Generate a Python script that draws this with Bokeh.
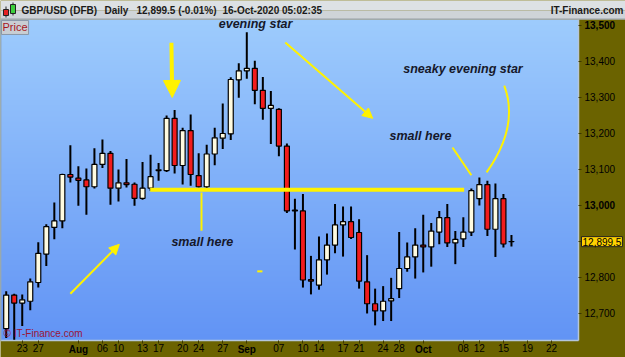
import numpy as np
import pandas as pd
from bokeh.plotting import figure
from bokeh.models import (Range1d, FixedTicker, NumeralTickFormatter, Label, Arrow,
                          NormalHead, ColumnDataSource, LinearAxis)
from bokeh.embed import file_html
from bokeh.resources import INLINE
from bokeh.core.properties import value

# ---------------- data (GBP/USD DFB, daily) ----------------
dates = list(pd.bdate_range("2020-07-21", "2020-10-16").strftime("%Y-%m-%d"))
future_slots = ["2020-10-18", "2020-10-19", "2020-10-20", "2020-10-21",
                "2020-10-22", "2020-10-23", "2020-10-26", "2020-10-27"]

opens = [12658, 12751, 12729, 12734, 12786, 12865, 12939, 12957, 13086, 13076,
         13071, 13052, 13114, 13145, 13048, 13063, 13059, 13020, 13048, 13097,
         13097, 13242, 13111, 13208, 13083, 13052, 13143, 13187, 13199, 13349,
         13374, 13381, 13320, 13270, 13267, 13165, 12985, 12985, 12794, 12779,
         12849, 12890, 12946, 12955, 12925, 12788, 12727, 12707, 12735, 12769,
         12825, 12857, 12890, 12885, 12926, 12966, 12896, 12907, 12926, 13019,
         13058, 12934, 13019, 12900]
highs = [12762, 12755, 12753, 12797, 12898, 12948, 13008, 13088, 13167, 13109,
         13103, 13159, 13183, 13151, 13100, 13129, 13064, 13121, 13141, 13118,
         13250, 13265, 13216, 13253, 13145, 13169, 13216, 13283, 13356, 13395,
         13481, 13402, 13357, 13318, 13270, 13172, 13019, 13032, 12860, 12914,
         12922, 13004, 12997, 12997, 12962, 12862, 12769, 12776, 12799, 12926,
         12897, 12937, 12974, 12951, 12985, 13004, 12929, 12967, 13047, 13078,
         13069, 13061, 13032, 12918]
lows = [12632, 12627, 12665, 12709, 12772, 12832, 12906, 12937, 13064, 12999,
        12974, 13047, 13104, 13002, 13011, 13050, 12999, 13016, 13041, 13069,
        13093, 13089, 13058, 13055, 13050, 13048, 13112, 13157, 13182, 13299,
        13352, 13281, 13238, 13171, 13137, 12979, 12878, 12772, 12753, 12766,
        12808, 12867, 12858, 12907, 12769, 12700, 12667, 12679, 12679, 12743,
        12816, 12797, 12814, 12830, 12892, 12885, 12837, 12885, 12915, 13000,
        12915, 12857, 12883, 12886]
closes = [12751, 12729, 12738, 12788, 12867, 12941, 12957, 13086, 13079, 13070,
          13052, 13114, 13145, 13048, 13063, 13058, 13020, 13048, 13080, 13099,
          13242, 13111, 13208, 13086, 13052, 13143, 13188, 13200, 13350, 13374,
          13381, 13320, 13270, 13278, 13165, 12985, 12987, 12793, 12790, 12849,
          12890, 12946, 12955, 12911, 12790, 12727, 12707, 12734, 12741, 12825,
          12857, 12890, 12885, 12929, 12966, 12896, 12906, 12926, 13041, 13058,
          12934, 13019, 12893, 12899.5]

tick_dates = ["2020-07-23", "2020-07-27", "2020-08-03", "2020-08-06", "2020-08-10",
              "2020-08-13", "2020-08-17", "2020-08-20", "2020-08-24", "2020-08-27",
              "2020-09-01", "2020-09-07", "2020-09-10", "2020-09-14", "2020-09-17",
              "2020-09-21", "2020-09-24", "2020-09-28", "2020-10-01", "2020-10-08",
              "2020-10-12", "2020-10-15", "2020-10-19", "2020-10-22"]
tick_labels = ["23", "27", "Aug", "06", "10", "13", "17", "20", "24", "27", "Sep",
               "07", "10", "14", "17", "21", "24", "28", "Oct", "08", "12", "15",
               "19", "22"]
month_labels = ["Aug", "Sep", "Oct"]
price_ticks = [12700, 12800, 12900, 13000, 13100, 13200, 13300, 13400, 13500]
bold_price_ticks = [13000, 13500]
last_price = 12899.5
header_texts = ["GBP/USD (DFB)", "Daily", "12,899.5 (-0.01%)", "16-Oct-2020 05:02:35"]

# ---------------- build ----------------
slots = dates + future_slots
slot_index = {d: i for i, d in enumerate(slots)}
xs = list(range(len(dates)))
CREAM, RED = "#fffbe0", "#f21c1c"
YEL = "#fff200"
OLIVE = "#6b6300"
FONT = "Liberation Sans"

src = ColumnDataSource(dict(
    x=xs, o=opens, h=highs, l=lows, c=closes,
    top=[max(a, b) for a, b in zip(opens, closes)],
    bot=[min(a, b) for a, b in zip(opens, closes)],
    col=[CREAM if c >= o else RED for o, c in zip(opens, closes)],
))

# frame covers the whole canvas; price pane is x in [-0.711, 71.36], y in [12625, 13516.7]
X0, X1, XP = -0.711, 77.22, 71.36
Y0, Y1, YB, YT = 12577.7, 13569.4, 12625.0, 13516.7

p = figure(width=625, height=357, x_range=Range1d(X0, X1), y_range=Range1d(Y0, Y1),
           y_axis_location="right", output_backend="svg", toolbar_location=None,
           min_border=0)
p.extra_x_ranges = {"px": Range1d(0, 625)}
p.extra_y_ranges = {"px": Range1d(357, 0)}
p.grid.visible = False
p.outline_line_color = None
p.background_fill_color = OLIVE
p.border_fill_color = OLIVE

# background gradient of price pane
N = 321
t = np.linspace(0, 1, N)[:, None]
top_c = np.array([158, 204, 253]); bot_c = np.array([98, 148, 245])
rgb = bot_c + (top_c - bot_c) * t
img = np.zeros((N, 1, 4), dtype=np.uint8)
img[..., :3] = rgb.reshape(N, 1, 3).astype(np.uint8)
img[..., 3] = 255
p.image_rgba(image=[img.view(np.uint32).reshape(N, 1)], x=X0, y=YB, dw=XP - X0, dh=YT - YB)
# pane borders
p.segment(x0=[XP, X0], y0=[YB, YB], x1=[XP, XP], y1=[YT, YB], line_color="#b4c6dc", line_width=1.5)
p.segment(x0=[X0], y0=[YB], x1=[X0], y1=[YT], line_color="#8ea6c2", line_width=2)

# candles
p.segment(x0="x", y0="l", x1="x", y1="h", source=src, line_color="black", line_width=2)
p.vbar(x="x", width=0.62, top="top", bottom="bot", source=src, fill_color="col",
       line_color="black", line_width=1.2)

# axes (fixed at the pane edges)
def style_axis(ax, bold=False):
    ax.major_label_text_font = FONT
    ax.major_label_text_font_size = "10px"
    ax.major_label_text_color = "#000000"
    ax.major_label_text_font_style = "bold" if bold else "normal"
    ax.major_tick_in = 0
    ax.minor_tick_line_color = None
    ax.major_tick_line_color = "#3c3800"
    ax.axis_line_color = None

yax = p.yaxis[0]
yax.fixed_location = XP
yax.ticker = FixedTicker(ticks=[v for v in price_ticks if v not in bold_price_ticks])
yax.formatter = NumeralTickFormatter(format="0,0")
yax.major_tick_out = 3
yax.major_label_standoff = 3
style_axis(yax)

yax_b = LinearAxis(fixed_location=XP, ticker=FixedTicker(ticks=bold_price_ticks),
                   formatter=NumeralTickFormatter(format="0,0"),
                   major_tick_out=3, major_label_standoff=3)
style_axis(yax_b, bold=True)
p.add_layout(yax_b, "right")

xt_norm = [(slot_index[d], lab) for d, lab in zip(tick_dates, tick_labels) if lab not in month_labels]
xt_bold = [(slot_index[d], lab) for d, lab in zip(tick_dates, tick_labels) if lab in month_labels]

xax = p.xaxis[0]
xax.fixed_location = YB
xax.ticker = FixedTicker(ticks=[i for i, _ in xt_norm])
xax.major_label_overrides = {i: lab for i, lab in xt_norm}
xax.major_tick_out = 3
xax.major_label_standoff = 1
style_axis(xax)

xax_b = LinearAxis(fixed_location=YB, ticker=FixedTicker(ticks=[i for i, _ in xt_bold]),
                   major_label_overrides={i: lab for i, lab in xt_bold},
                   major_tick_out=3, major_label_standoff=1)
style_axis(xax_b, bold=True)
p.add_layout(xax_b, "below")

# annotations
p.segment(x0=[17.95], y0=[13044], x1=[57.1], y1=[13044], line_color=YEL, line_width=4)
p.segment(x0=[24.35], y0=[13036], x1=[24.35], y1=[12930], line_color=YEL, line_width=2)
p.segment(x0=[31.3], y0=[12817], x1=[31.95], y1=[12817], line_color=YEL, line_width=2)
p.segment(x0=[55.65], y0=[13161], x1=[58.0], y1=[13084], line_color=YEL, line_width=2)
p.quadratic(x0=[62.1], y0=[13333], x1=[59.9], y1=[13092], cx=[64.0], cy=[13221],
            line_color=YEL, line_width=2)

p.add_layout(Arrow(end=NormalHead(size=17, fill_color=YEL, line_color=YEL),
                   x_start=20.6, y_start=13452, x_end=20.7, y_end=13300,
                   line_color=YEL, line_width=4))
p.add_layout(Arrow(end=NormalHead(size=10, fill_color=YEL, line_color=YEL),
                   x_start=8.0, y_start=12755, x_end=14.1, y_end=12892,
                   line_color=YEL, line_width=2))
p.add_layout(Arrow(end=NormalHead(size=10, fill_color=YEL, line_color=YEL),
                   x_start=34.8, y_start=13453, x_end=45.7, y_end=13242,
                   line_color=YEL, line_width=2))

ann_font = dict(text_font=value(FONT), text_font_style="bold italic",
                text_font_size="12.5px", text_color="#16182a", text_baseline="middle")
p.text(x=[20.6], y=[12898], text=["small here"], **ann_font)
p.text(x=[26.5], y=[13503], text=["evening star"], **ann_font)
p.text(x=[47.8], y=[13192], text=["small here"], **ann_font)
p.text(x=[49.5], y=[13378], text=["sneaky evening star"], **ann_font)

p.add_layout(Label(x=X0, y=YT, text="Price", text_baseline="top",
                   x_offset=1, y_offset=-1, text_font=FONT, text_font_size="11px",
                   text_color="#a8161c", background_fill_color="#c9ced3",
                   border_line_color="#8a98a8", padding=1))
p.add_layout(Label(x=X0, y=YB, text="\u00a9 IT-Finance.com", text_baseline="bottom",
                   x_offset=3, y_offset=1, text_font=FONT, text_font_size="10px",
                   text_color="#9a1438"))
p.add_layout(Label(x=XP, y=last_price, text="12,899.5", text_baseline="middle",
                   x_offset=3, text_font=FONT, text_font_size="10px", text_color="#000000",
                   background_fill_color="#ffd200", border_line_color="#222222", padding=1))

# ---------------- header strip (pixel ranges) ----------------
hp = dict(x_range_name="px", y_range_name="px")
p.quad(left=[0], right=[625], top=[0], bottom=[10], fill_color="#dde1e4", line_color=None, **hp)
p.quad(left=[0], right=[625], top=[10], bottom=[19], fill_color="#cfd4d8", line_color=None, **hp)
p.segment(x0=[0], y0=[18.5], x1=[625], y1=[18.5], line_color="#98a0a8", line_width=1, **hp)
p.segment(x0=[5.5, 12.5], y0=[6, 2], x1=[5.5, 12.5], y1=[17, 15], line_color="#222222",
          line_width=1, **hp)
p.quad(left=[3, 10], right=[8, 15], top=[9, 4], bottom=[15, 13],
       fill_color=["#e52020", "#3ccf3c"], line_color="#222222", line_width=1, **hp)
hdr = dict(text_font=value(FONT), text_font_style="bold", text_font_size="10px",
           text_color="#1a1a1a", text_baseline="middle")
p.text(x=[21, 104, 136, 222], y=[9.5] * 4, text=header_texts, **hdr, **hp)
p.text(x=[623], y=[9.5], text=["IT-Finance.com"], text_align="right", **hdr, **hp)

open("out.html", "w").write(file_html(p, INLINE))
